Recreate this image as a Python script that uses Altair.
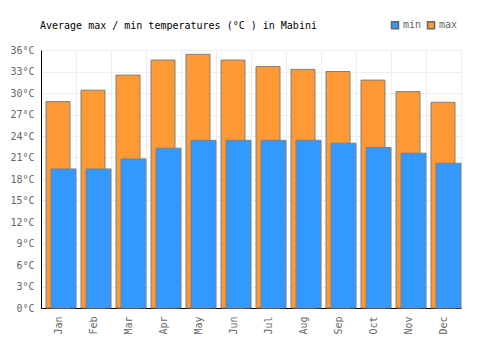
import altair as alt
import pandas as pd

months = ["Jan", "Feb", "Mar", "Apr", "May", "Jun", "Jul", "Aug", "Sep", "Oct", "Nov", "Dec"]
max_temps = [28.8, 30.4, 32.5, 34.6, 35.4, 34.6, 33.7, 33.3, 33.0, 31.8, 30.2, 28.7]
min_temps = [19.4, 19.4, 20.8, 22.3, 23.4, 23.4, 23.4, 23.4, 23.0, 22.4, 21.6, 20.2]
y_ticks = list(range(0, 37, 3))
title_text = "Average max / min temperatures (°C ) in Mabini"

df_max = pd.DataFrame({"month": months, "temp": max_temps, "series": "max"})
df_min = pd.DataFrame({"month": months, "temp": min_temps, "series": "min"})

FONT = "DejaVu Sans Mono"

x_enc = alt.X("month:N", sort=months, title=None,
              scale=alt.Scale(paddingInner=0, paddingOuter=0),
              axis=alt.Axis(labelAngle=270, ticks=False, tickBand="extent", grid=True,
                            gridColor="#eeeeee", domainColor="#000000", labelColor="#666666",
                            labelFont=FONT, labelFontSize=10, labelPadding=8,
                            labelAlign="right", labelBaseline="middle"))
y_enc = alt.Y("temp:Q", title=None,
              scale=alt.Scale(domain=[0, 36], nice=False),
              axis=alt.Axis(values=y_ticks, labelExpr="datum.value + '°C'", ticks=False,
                            gridColor="#eeeeee", domainColor="#000000", labelColor="#666666",
                            labelFont=FONT, labelFontSize=10, labelPadding=7))
color_enc = alt.Color("series:N", title=None,
                      scale=alt.Scale(domain=["min", "max"], range=["#3399ff", "#ff9933"]),
                      legend=alt.Legend(orient="none", legendX=349, legendY=-30,
                                        direction="horizontal", symbolType="square",
                                        symbolSize=49, symbolStrokeColor="#666666",
                                        symbolStrokeWidth=1.5, labelFont=FONT,
                                        labelFontSize=10, labelColor="#666666",
                                        columnPadding=2, labelOffset=3))

max_bars = alt.Chart(df_max).mark_bar(width=24, xOffset=-0.5, stroke="#808080",
                                      strokeWidth=1, opacity=1).encode(
    x=x_enc, y=y_enc, color=color_enc)
min_bars = alt.Chart(df_min).mark_bar(width=25, xOffset=5, stroke="#808080",
                                      strokeWidth=1, opacity=1).encode(
    x=x_enc, y=y_enc, color=color_enc)

title_mark = alt.Chart(pd.DataFrame({"t": [title_text]})).mark_text(
    align="left", baseline="alphabetic", font=FONT, fontSize=10, color="#000000"
).encode(text="t:N", x=alt.value(-1), y=alt.value(-21))

chart = alt.layer(max_bars, min_bars, title_mark).properties(
    width=420, height=258,
    autosize=alt.AutoSizeParams(type="none"),
    padding={"left": 41, "top": 50, "right": 39, "bottom": 42},
).configure_view(stroke=None).configure(background="white")

chart.save("out.html", embed_options={"renderer": "svg", "actions": False})
